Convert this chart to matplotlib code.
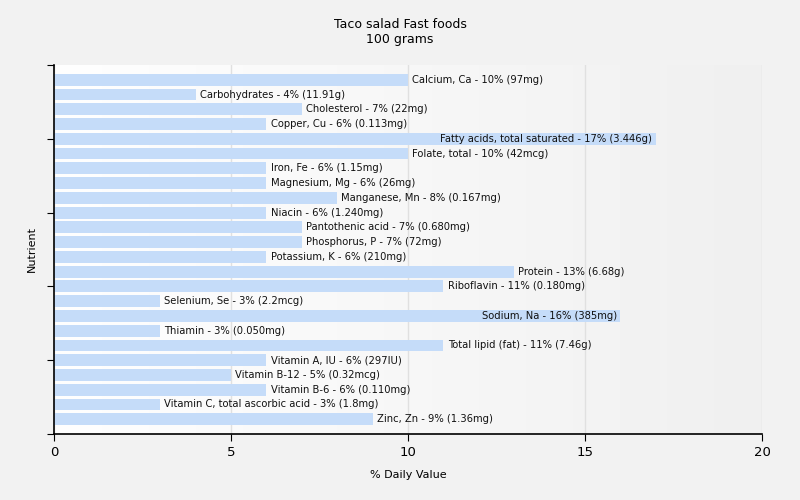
import numpy as np
import matplotlib.pyplot as plt
from matplotlib.colors import LinearSegmentedColormap

nutrients = ['Calcium, Ca', 'Carbohydrates', 'Cholesterol', 'Copper, Cu',
             'Fatty acids, total saturated', 'Folate, total', 'Iron, Fe',
             'Magnesium, Mg', 'Manganese, Mn', 'Niacin', 'Pantothenic acid',
             'Phosphorus, P', 'Potassium, K', 'Protein', 'Riboflavin',
             'Selenium, Se', 'Sodium, Na', 'Thiamin', 'Total lipid (fat)',
             'Vitamin A, IU', 'Vitamin B-12', 'Vitamin B-6',
             'Vitamin C, total ascorbic acid', 'Zinc, Zn']
daily_pct = [10, 4, 7, 6, 17, 10, 6, 6, 8, 6, 7, 7, 6, 13, 11, 3, 16, 3, 11, 6, 5, 6, 3, 9]
amounts = ['97mg', '11.91g', '22mg', '0.113mg', '3.446g', '42mcg', '1.15mg',
           '26mg', '0.167mg', '1.240mg', '0.680mg', '72mg', '210mg', '6.68g',
           '0.180mg', '2.2mcg', '385mg', '0.050mg', '7.46g', '297IU',
           '0.32mcg', '0.110mg', '1.8mg', '1.36mg']

fig = plt.figure(figsize=(8, 5), dpi=100, facecolor='#f2f2f2')
ax = fig.add_axes([0.0675, 0.132, 0.885, 0.738])

# background gradient white -> light gray
grad = np.linspace(0, 1, 1024).reshape(1, -1)
bg = LinearSegmentedColormap.from_list('bg', ['#ffffff', '#f0f0f0'], N=1024)
ax.imshow(grad, extent=[0, 1, 0, 1], transform=ax.transAxes, aspect='auto',
          cmap=bg, interpolation='bilinear', zorder=0)

n = len(nutrients)
ypos = np.arange(n)[::-1]
ax.barh(ypos, daily_pct, height=0.8, color='#c5dcf9', zorder=2)

for y, v, name, amt in zip(ypos, daily_pct, nutrients, amounts):
    label = f'{name} - {v}% ({amt})'
    if v >= 15:
        ax.text(v - 0.1, y, label, ha='right', va='center', fontsize=7.2, color='#111111', zorder=3)
    else:
        ax.text(v + 0.12, y, label, ha='left', va='center', fontsize=7.2, color='#111111', zorder=3)

ax.set_xlim(0, 20)
ax.set_ylim(-1, 24)
ax.set_xticks([0, 5, 10, 15, 20])
ax.set_yticks([-1, 4, 9, 14, 19, 24])
ax.set_yticklabels([])
ax.tick_params(axis='x', labelsize=9.5, length=5)
ax.tick_params(axis='y', length=5)
ax.grid(axis='x', color='#e0e0e0', linewidth=1, zorder=1)
ax.set_axisbelow(True)
for s in ['top', 'right']:
    ax.spines[s].set_visible(False)
for s in ['left', 'bottom']:
    ax.spines[s].set_color('black')
    ax.spines[s].set_linewidth(1.2)

ax.set_xlabel('% Daily Value', fontsize=8, labelpad=8)
ax.set_ylabel('Nutrient', fontsize=8)
fig.suptitle('Taco salad Fast foods\n100 grams', fontsize=9, y=0.965)

fig.savefig('out.png', dpi=100, facecolor=fig.get_facecolor())
